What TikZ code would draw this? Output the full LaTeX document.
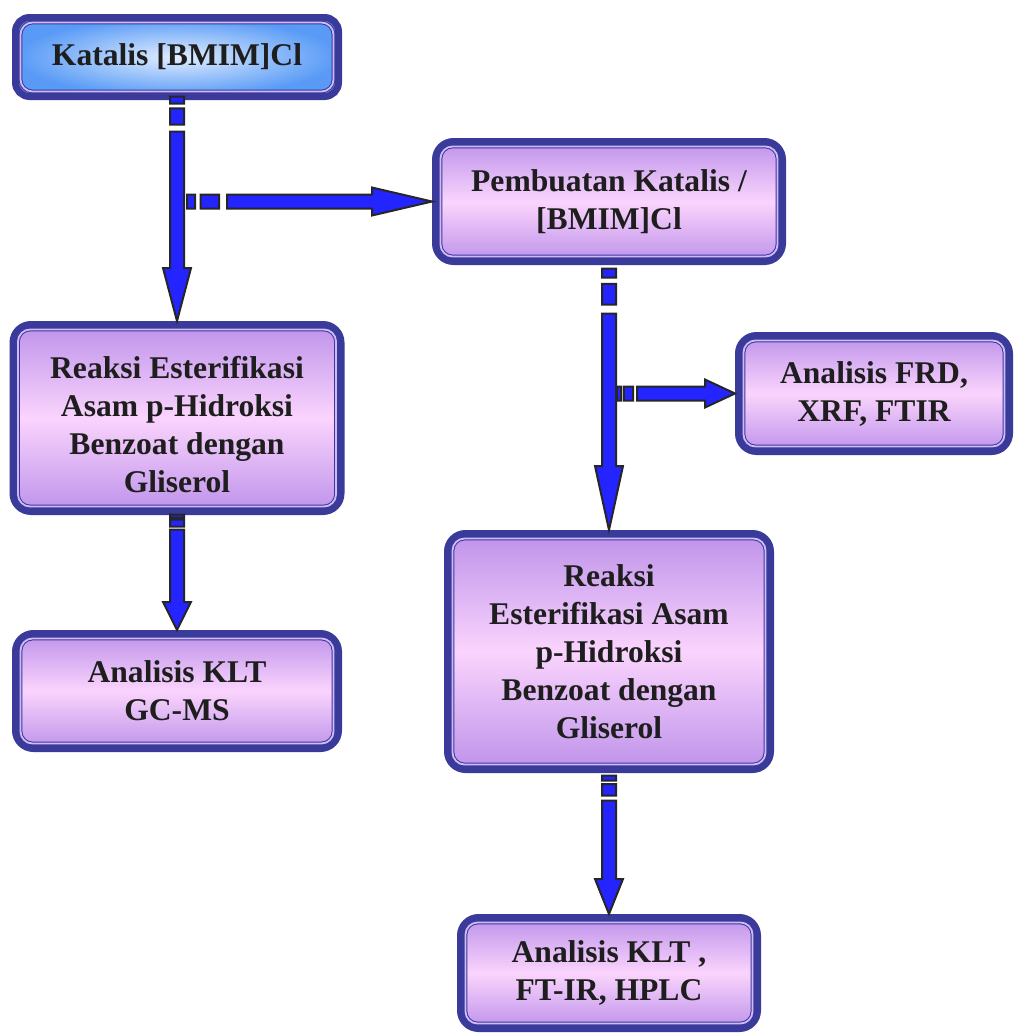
\documentclass[tikz,border=0pt]{standalone}
\usepackage{fontspec}
\setmainfont{Liberation Serif}
\usetikzlibrary{positioning, calc}

\definecolor{boxedge}{RGB}{58,58,155}
\definecolor{katfill}{RGB}{88,154,246}
\definecolor{katlight}{RGB}{225,238,255}
\definecolor{violet1}{RGB}{190,146,234}
\definecolor{violet2}{RGB}{250,212,253}
\definecolor{frameline}{RGB}{210,186,250}
\definecolor{arrowblue}{RGB}{36,36,255}
\definecolor{textdark}{RGB}{30,30,30}

% striped block arrows: #1 start, #2 end, #3 head length, #4 stripe unit
\newcommand{\downstripe}[4]{%
  \path[stripe] let \p1=(#1), \p2=(#2) in
    (\x1-3.5pt,\y1) rectangle (\x1+3.5pt,\y1-#4)
    (\x1-3.5pt,\y1-1.7*#4) rectangle (\x1+3.5pt,\y1-4*#4)
    (\x1-3.5pt,\y1-5*#4) -- (\x1-3.5pt,\y2+1.75pt+#3) -- (\x1-7pt,\y2+1.75pt+#3)
    -- (\x1,\y2+1.75pt) -- (\x1+7pt,\y2+1.75pt+#3) -- (\x1+3.5pt,\y2+1.75pt+#3)
    -- (\x1+3.5pt,\y1-5*#4) -- cycle;}
\newcommand{\rightstripe}[4]{%
  \path[stripe] let \p1=(#1), \p2=(#2) in
    (\x1,\y1-3.5pt) rectangle (\x1+#4,\y1+3.5pt)
    (\x1+1.7*#4,\y1-3.5pt) rectangle (\x1+4*#4,\y1+3.5pt)
    (\x1+5*#4,\y1-3.5pt) -- (\x2-1.75pt-#3,\y1-3.5pt) -- (\x2-1.75pt-#3,\y1-7pt)
    -- (\x2-1.75pt,\y1) -- (\x2-1.75pt-#3,\y1+7pt) -- (\x2-1.75pt-#3,\y1+3.5pt)
    -- (\x1+5*#4,\y1+3.5pt) -- cycle;}

\begin{document}
\begin{tikzpicture}[
    x=0.5pt, y=-0.5pt,
    box/.style={rectangle, rounded corners=9pt, draw=boxedge, line width=3.5pt, outer sep=0pt, inner sep=0pt, align=center, text=textdark, font=\fontsize{15.8pt}{19pt}\selectfont\bfseries},
    katbox/.style={box, rounded corners=7pt, inner color=katlight, outer color=katfill},
    purplebox/.style={box, top color=violet1, bottom color=violet1, middle color=violet2},
    innerframe/.style={draw=boxedge, line width=0.5pt, double=frameline, double distance=0.9pt, rounded corners=6pt},
    stripe/.style={draw=black!85, fill=arrowblue, line width=1pt, line join=miter}
]
    \useasboundingbox[fill=white] (0,0) rectangle (1013,1034);

    \node[katbox, minimum width=161.5pt, minimum height=39.5pt] (kat) at (177,57) {Katalis [BMIM]Cl};
    \node[purplebox, minimum width=164pt, minimum height=93.5pt, below=114pt of kat] (rk1) {\rule{0pt}{18pt}Reaksi Esterifikasi\\Asam p-Hidroksi\\Benzoat dengan\\Gliserol};
    \node[purplebox, minimum width=161.5pt, minimum height=57.5pt, below=61pt of rk1] (klt1) {Analisis KLT\\GC-MS};
    \node[purplebox, minimum width=173.5pt, minimum height=60pt, below right=22.5pt and 48.5pt of kat] (pem) {Pembuatan Katalis /\\{}[BMIM]Cl};
    \node[purplebox, minimum width=161.5pt, minimum height=118pt, below=136pt of pem] (rk2) {Reaksi\\Esterifikasi Asam\\p-Hidroksi\\Benzoat dengan\\Gliserol};
    \node[purplebox, minimum width=135.5pt, minimum height=58pt, anchor=north west] (frd) at ([shift={(-22pt,-37pt)}]pem.south east) {Analisis FRD,\\XRF, FTIR};
    \node[purplebox, minimum width=148.5pt, minimum height=55.5pt, below=74pt of rk2] (klt2) {Analisis KLT ,\\FT-IR, HPLC};

    % inner frame lines
    \foreach \n in {kat, rk1, klt1, pem, rk2, frd, klt2}
        \draw[innerframe] ($(\n.south west)+(2.5pt,2.5pt)$) rectangle ($(\n.north east)+(-2.5pt,-2.5pt)$);

    \coordinate (j1) at ([xshift=5pt]kat.south |- pem.west);
    \coordinate (j2) at ([xshift=4pt]pem.south |- frd.west);

    \downstripe{kat.south}{rk1.north}{26.5pt}{3.5pt}
    \rightstripe{j1}{pem.west}{30pt}{4pt}
    \downstripe{[yshift=-3.5pt]pem.south}{rk2.north}{32pt}{4.5pt}
    \rightstripe{j2}{frd.west}{15pt}{2pt}
    \downstripe{[yshift=-1.5pt]rk1.south}{klt1.north}{14pt}{1.5pt}
    \downstripe{[yshift=-3pt]rk2.south}{klt2.north}{17.5pt}{2.5pt}
\end{tikzpicture}
\end{document}
